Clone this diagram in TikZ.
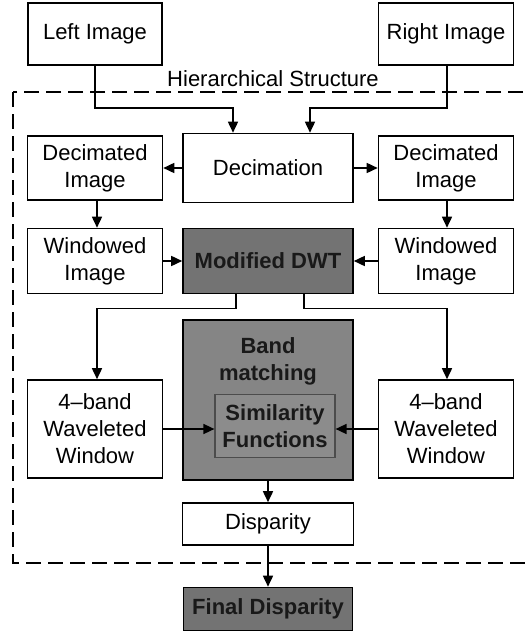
\documentclass[tikz,border=0pt]{standalone}
\usepackage{fontspec}
\setmainfont{Liberation Sans}
\usetikzlibrary{arrows.meta}
\begin{document}
\begin{tikzpicture}[x=1pt,y=-1pt,font=\fontsize{22}{27}\selectfont,
    blk/.style={draw,line width=1.6pt,align=center,inner sep=0pt},
    dark/.style={blk,fill=black!55,text=black!90,font=\fontsize{22}{27}\selectfont\bfseries},
    arr/.style={line width=1.6pt,-{Triangle[length=11pt,width=10pt]}}]
  \useasboundingbox (0,0) rectangle (529,632);
  % hierarchical part
  \draw[line width=1.5pt,dash pattern=on 15pt off 7pt] (13,92) rectangle (545,563);
  \node (hier) at (273,79) {Hierarchical Structure};
  % inputs
  \node[blk,minimum width=134pt,minimum height=62pt] (limg) at (95,34) {Left Image};
  \node[blk,minimum width=135pt,minimum height=62pt] (rimg) at (446,34) {Right Image};
  % decimation row
  \node[blk,minimum width=170pt,minimum height=69pt] (dec) at (268,168) {Decimation};
  \node[blk,minimum width=135pt,minimum height=64pt] (decl) at (95,168) {Decimated\\Image};
  \node[blk,minimum width=135pt,minimum height=64pt] (decr) at (446,168) {Decimated\\Image};
  % window row
  \node[blk,minimum width=135pt,minimum height=65pt] (winl) at (95,261) {Windowed\\Image};
  \node[dark,minimum width=170pt,minimum height=65pt] (dwt) at (268,261) {Modified DWT};
  \node[blk,minimum width=135pt,minimum height=65pt] (winr) at (446,261) {Windowed\\Image};
  % band matching
  \node[dark,fill=black!48,minimum width=170pt,minimum height=160pt] (band) at (268,400) {};
  \node[font=\fontsize{22}{27}\selectfont\bfseries,text=black!90,align=center] (bandlbl) at (268,361) {Band\\matching};
  \node[dark,fill=black!45,draw=black!70,line width=1.2pt,minimum width=120pt,minimum height=63pt] (sim) at (275,426) {Similarity\\Functions};
  \node[blk,minimum width=135pt,minimum height=98pt] (bandl) at (95,429) {4–band\\Waveleted\\Window};
  \node[blk,minimum width=135pt,minimum height=98pt] (bandr) at (446,429) {4–band\\Waveleted\\Window};
  % output
  \node[blk,minimum width=171pt,minimum height=42pt] (disp) at (268,524) {Disparity};
  \node[dark,minimum width=169pt,minimum height=43pt] (final) at (268,609) {Final Disparity};
  % connectors
  \draw[arr] (limg.south) -- ++(0,42) -| ([xshift=-35pt]dec.north);
  \draw[arr] ([xshift=1pt]rimg.south) -- ++(0,42) -| ([xshift=42pt]dec.north);
  \draw[arr] (dec.west) -- (decl.east);
  \draw[arr] (dec.east) -- (decr.east -| decr.west);
  \draw[arr] ([xshift=2pt]decl.south) -- ([xshift=2pt]winl.north);
  \draw[arr] ([xshift=1pt]decr.south) -- ([xshift=1pt]winr.north);
  \draw[arr] (winl.east) -- (dwt.west);
  \draw[arr] (winr.west) -- (dwt.east);
  \draw[arr] ([xshift=-32pt]dwt.south) -- ++(0,14) -| ([xshift=2pt]bandl.north);
  \draw[arr] ([xshift=36pt]dwt.south) -- ++(0,14) -| ([xshift=1pt]bandr.north);
  \draw[arr] (bandl.east) -- (bandl.east -| sim.west);
  \draw[arr] (bandr.west) -- (bandr.west -| sim.east);
  \draw[arr] (band.south) -- (disp.north);
  \draw[arr] (disp.south) -- (final.north);
\end{tikzpicture}
\end{document}
